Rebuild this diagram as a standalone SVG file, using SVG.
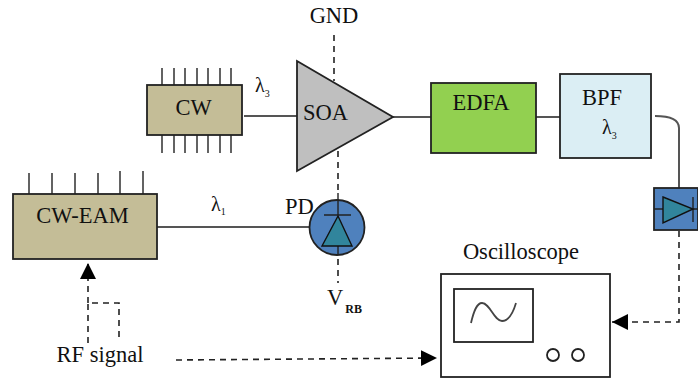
<svg xmlns="http://www.w3.org/2000/svg" width="698" height="379" viewBox="0 0 698 379">
<defs>
<marker id="ah" markerUnits="userSpaceOnUse" markerWidth="18" markerHeight="18" refX="16" refY="8" orient="auto"><path d="M0 0L16 8L0 16Z" fill="#000"/></marker>
</defs>
<style>
text{font-family:"Liberation Serif",serif;fill:#111;font-size:22.5px}
.lam{font-size:20px}
.sub{font-size:10px}
.box{stroke:#222;stroke-width:1.8}
.pin{stroke:#222;stroke-width:1.4;fill:none}
.tri{stroke:#111;stroke-width:1.4;fill:#31859c}
.wire{stroke:#555;stroke-width:2;fill:none}
.dash{stroke:#222;stroke-width:1.6;stroke-dasharray:6 5;fill:none}
</style>
<rect width="698" height="379" fill="#fff"/>
<g id="connectors">
<path class="wire" d="M244 116H297"/>
<path class="wire" d="M393 117H431"/>
<path class="wire" d="M536 117H561"/>
<path class="wire" d="M655 116Q679 116 679 128V188"/>
<path class="wire" d="M157 227H309"/>
<path class="dash" d="M334 35V81"/>
<path class="dash" d="M338 151V193"/>
<path class="dash" d="M338 259V283"/>
<path class="dash" d="M88 343V303H119V338"/>
<path class="dash" d="M88 303V263" marker-end="url(#ah)"/>
<path class="dash" d="M176 360L437 358" marker-end="url(#ah)"/>
<path class="dash" d="M679 231V322H612" marker-end="url(#ah)"/>
</g>
<g id="cw">
<path class="pin" d="M162 68V85M174 68V85M185 68V85M197 68V85M208 68V85M220 68V85M231 68V85M162 135V153M174 135V153M185 135V153M197 135V153M208 135V153M220 135V153M231 135V153"/>
<rect class="box" x="147" y="85" width="95" height="50" fill="#c4bd97"/>
<text x="193.500" y="115" text-anchor="middle">CW</text>
</g>
<g id="lambda3-a"><text class="lam" x="255" y="92">λ<tspan class="sub" dy="5">3</tspan></text></g>
<g id="soa">
<path class="box" d="M297 61L393 117L297 171Z" fill="#bfbfbf"/>
<text x="303" y="120">SOA</text>
</g>
<g id="gnd"><text x="334" y="23" text-anchor="middle">GND</text></g>
<g id="edfa">
<rect class="box" x="431" y="83" width="105" height="70" fill="#92d050"/>
<text x="481" y="110" text-anchor="middle">EDFA</text>
</g>
<g id="bpf">
<rect class="box" x="560" y="74" width="91" height="84" fill="#dbeef4"/>
<text x="582" y="105">BPF</text>
<text class="lam" x="602" y="134">λ<tspan class="sub" dy="5">3</tspan></text>
</g>
<g id="pd-right">
<rect class="box" x="654" y="188" width="44" height="42" fill="#4f81bd"/>
<path class="pin" d="M654 209H663M693 209H698M693 197V222"/>
<path class="tri" d="M663 197L693 209L663 223Z"/>
</g>
<g id="cw-eam">
<path class="pin" d="M29 173V194M52 173V194M75 173V194M98 173V194M120 171V194M143 171V194"/>
<rect class="box" x="13" y="194" width="144" height="65" fill="#c4bd97"/>
<text x="82.500" y="223" text-anchor="middle">CW-EAM</text>
</g>
<g id="lambda1"><text class="lam" x="211" y="211">λ<tspan class="sub" dy="4">1</tspan></text></g>
<g id="pd">
<circle class="box" cx="337" cy="227.500" r="27.500" fill="#4f81bd"/>
<path class="pin" d="M338 193V215M324 215H351M338 246V255"/>
<path class="tri" d="M338 216L322 246H352Z"/>
<text x="285" y="214">PD</text>
</g>
<g id="vrb"><text x="327" y="305">V<tspan font-size="12" font-weight="bold" style="font-size:12px" dx="2" dy="8">RB</tspan></text></g>
<g id="rf"><text x="100" y="362" text-anchor="middle">RF signal</text></g>
<g id="oscilloscope">
<text x="521" y="259" text-anchor="middle">Oscilloscope</text>
<rect class="box" x="441" y="274" width="169" height="103" fill="#fff"/>
<rect class="box" x="454" y="289" width="79" height="53" fill="#fff"/>
<path d="M471 323C474 310 477 303 482 303C490 303 494 321 502 321C509 321 513 313 516 303" stroke="#444" stroke-width="1.8" fill="none"/>
<circle class="box" cx="553" cy="355" r="6" fill="#fff"/>
<circle class="box" cx="578" cy="355" r="6" fill="#fff"/>
</g>
</svg>
